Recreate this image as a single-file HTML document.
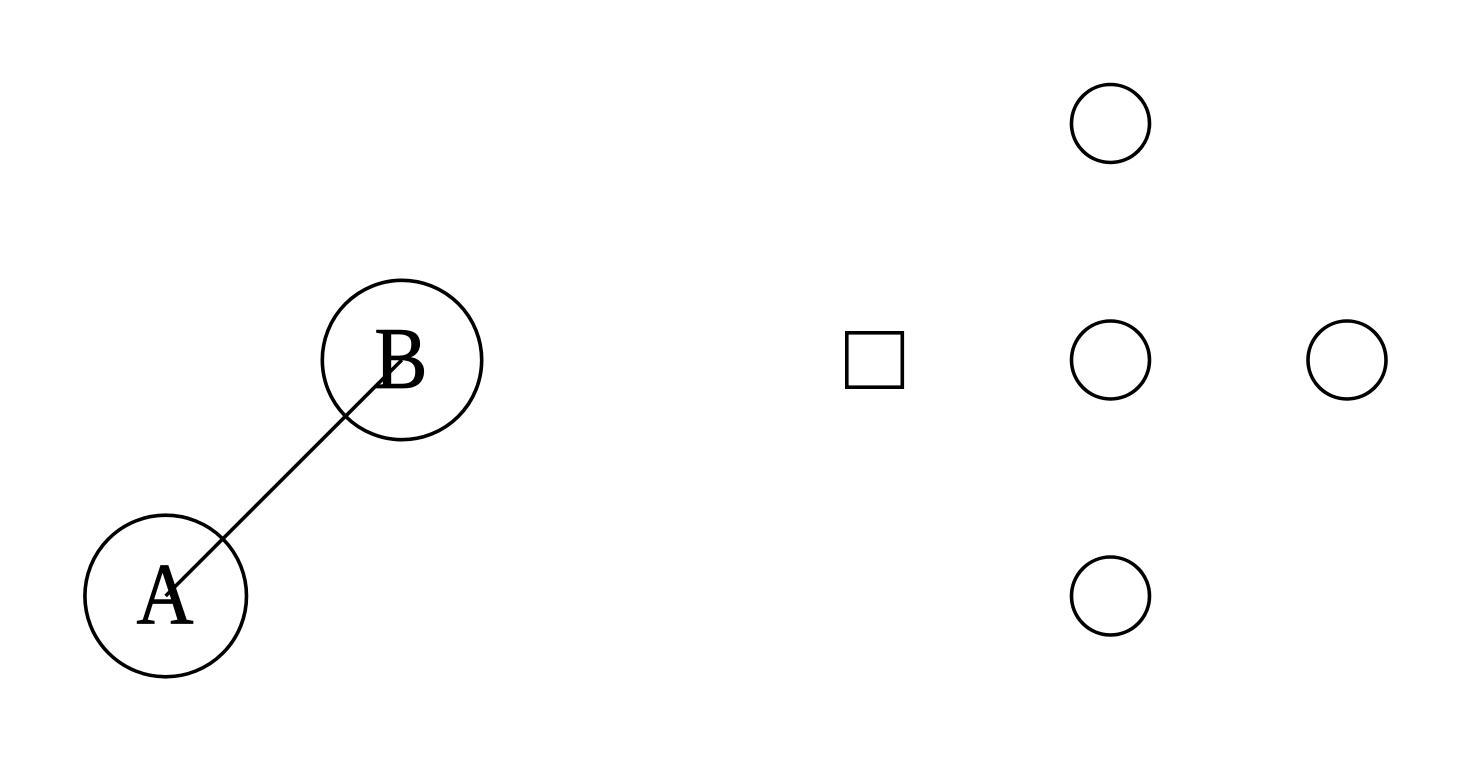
<!DOCTYPE html>
<html lang="en">
<head>
<meta charset="utf-8">
<title>Graph diagram</title>
<style>
html,body{margin:0;padding:0;background:#fff;}
svg{display:block;}
text{font-family:"Liberation Serif",serif;fill:#000;stroke:#000;stroke-width:0.8px;}
</style>
</head>
<body>
<svg id="chart" width="1471" height="762" viewBox="0 0 1471 762" xmlns="http://www.w3.org/2000/svg">
  <rect x="0" y="0" width="1471" height="762" fill="#fff"/>
  <line x1="165.600" y1="596" x2="401.800" y2="360" stroke="#000" stroke-width="3.600"/>
  <circle cx="165.700" cy="596" r="80.800" fill="none" stroke="#000" stroke-width="3.600"/>
  <text transform="translate(165 623.500) scale(0.9 1)" x="0" y="0" font-size="88" text-anchor="middle">A</text>
  <circle cx="402" cy="360" r="79.700" fill="none" stroke="#000" stroke-width="3.600"/>
  <text transform="translate(401 388) scale(0.91 1)" x="0" y="0" font-size="88" text-anchor="middle">B</text>
  <rect x="846.800" y="332.800" width="55.500" height="54.400" fill="none" stroke="#000" stroke-width="3.600"/>
  <circle cx="1110.500" cy="123.500" r="39" fill="none" stroke="#000" stroke-width="3.600"/>
  <circle cx="1110.500" cy="360" r="39" fill="none" stroke="#000" stroke-width="3.600"/>
  <circle cx="1347" cy="360" r="39" fill="none" stroke="#000" stroke-width="3.600"/>
  <circle cx="1110.500" cy="596" r="39" fill="none" stroke="#000" stroke-width="3.600"/>
</svg>
</body>
</html>
